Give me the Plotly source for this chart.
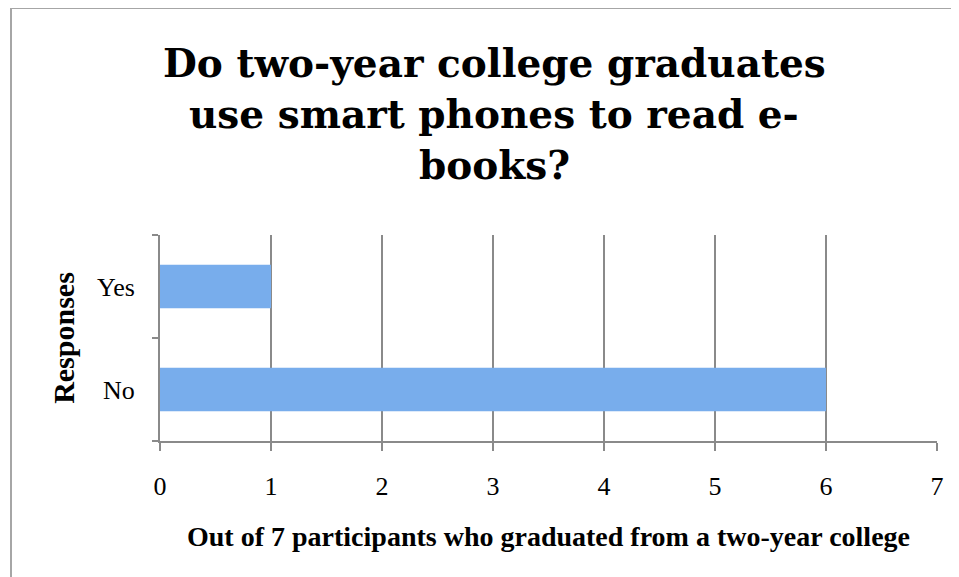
import plotly.graph_objects as go

# Data
categories = ["No", "Yes"]
counts = [6, 1]
x_ticks = [0, 1, 2, 3, 4, 5, 6, 7]
title_lines = ["Do two-year college graduates", "use smart phones to read e-", "books?"]
x_title = "Out of 7 participants who graduated from a two-year college"
y_title = "Responses"

W, H = 959, 577
OFF = 8  # page body margin
L, R, T, B = 160 - OFF, 22 + OFF, 235 - OFF, 136 + OFF
pw, ph = W - L - R, H - T - B

def px_x(x):
    return (x - OFF - L) / pw

def px_y(y):
    return (H - B - (y - OFF)) / ph

fig = go.Figure()
fig.add_trace(go.Bar(
    x=counts, y=categories, orientation="h",
    marker=dict(color="#78adec", line=dict(width=0)),
    width=0.42,
))

serif = "Liberation Serif, Times New Roman, serif"
title_font = "DejaVu Serif, Liberation Serif, serif"
fig.update_layout(
    width=W, height=H,
    margin=dict(l=L, r=R, t=T, b=B),
    paper_bgcolor="white", plot_bgcolor="white",
    showlegend=False,
    font=dict(family=serif, color="black"),
    xaxis=dict(
        range=[0, 7], tickvals=x_ticks, ticktext=[str(v) for v in x_ticks],
        showgrid=True, gridcolor="#8a8a8a", gridwidth=2,
        showline=True, linecolor="#8a8a8a", linewidth=2,
        ticks="outside", ticklen=8, tickwidth=2, tickcolor="#8a8a8a",
        tickfont=dict(size=26, family=serif), ticklabelstandoff=13,
        zeroline=False, fixedrange=True,
    ),
    yaxis=dict(
        type="category", categoryorder="array", categoryarray=categories,
        range=[-0.5, 1.5],
        showgrid=False, showline=True, linecolor="#8a8a8a", linewidth=2,
        ticks="outside", ticklen=6, tickwidth=2, tickcolor="#8a8a8a",
        tickson="boundaries",
        tickfont=dict(size=26, family=serif), ticklabelstandoff=18,
        zeroline=False, fixedrange=True,
        title=dict(text="<b>" + y_title + "</b>", font=dict(size=30, family=serif), standoff=13),
    ),
)

# X axis title
fig.add_annotation(
    text="<b>" + x_title + "</b>", xref="paper", yref="paper",
    x=px_x(548), y=px_y(536), xanchor="center", yanchor="middle",
    showarrow=False, font=dict(size=28, family=serif, color="black"),
)

# Title lines as annotations
for line, yc in zip(title_lines, [63, 114, 165]):
    fig.add_annotation(
        text="<b>" + line + "</b>", xref="paper", yref="paper",
        x=px_x(494), y=px_y(yc), xanchor="center", yanchor="middle",
        showarrow=False, font=dict(size=39, family=title_font, color="black"),
    )

# Outer chart border
fig.add_shape(
    type="rect", xref="paper", yref="paper",
    x0=px_x(11), x1=px_x(W + 20), y0=px_y(H + 20), y1=px_y(8),
    line=dict(color="#a6a6a6", width=2), fillcolor="rgba(0,0,0,0)", layer="below",
)

fig.write_html("out.html")
